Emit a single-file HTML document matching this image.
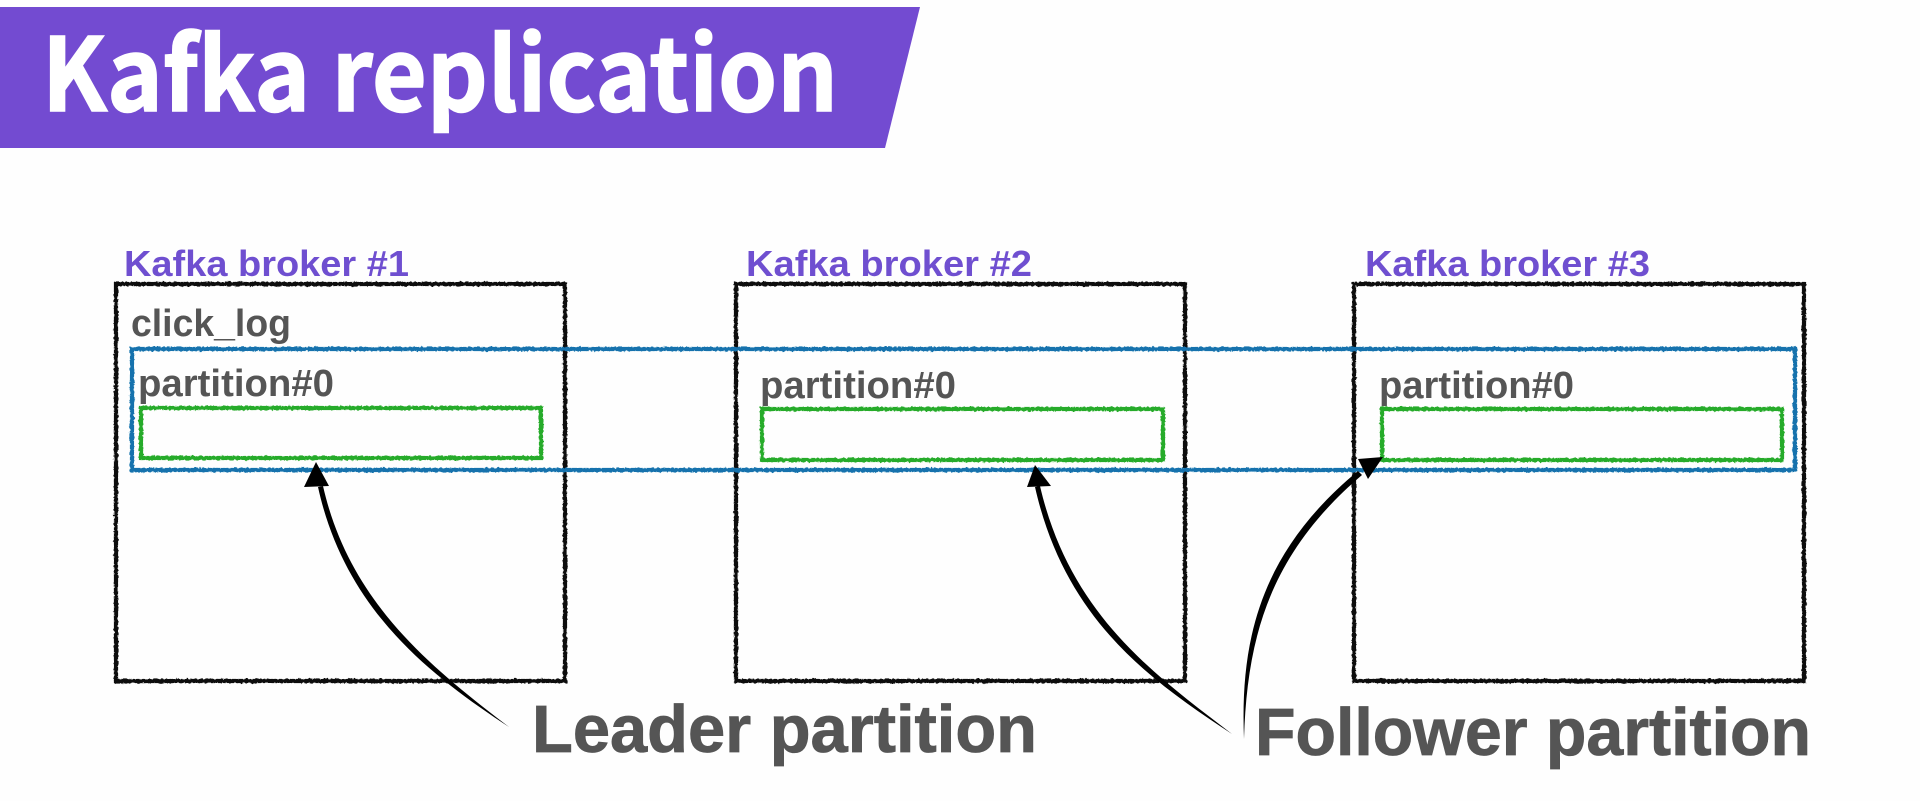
<!DOCTYPE html>
<html><head><meta charset="utf-8"><style>
html,body{margin:0;padding:0;background:#fefefe;width:1920px;height:801px;overflow:hidden}
svg{display:block}
text{font-family:"Liberation Sans",sans-serif;font-weight:700}
</style></head><body>
<svg width="1920" height="801" viewBox="0 0 1920 801" xmlns="http://www.w3.org/2000/svg">
<defs><filter id="r" x="-2%" y="-2%" width="104%" height="104%"><feTurbulence type="fractalNoise" baseFrequency="0.35" numOctaves="2" seed="4"/><feDisplacementMap in="SourceGraphic" scale="3"/></filter></defs>
<polygon points="0,7 920,7 885,148 0,148" fill="#734bd1"/>
<text x="42" y="111" font-size="101" fill="#fff" stroke="#fff" stroke-width="1.5" textLength="796" lengthAdjust="spacingAndGlyphs" style='font-family:"Noto Sans CJK KR","Liberation Sans",sans-serif;font-weight:700'>Kafka replication</text>
<g fill="none" filter="url(#r)">
<g stroke="#111" stroke-width="4.2">
<rect x="116" y="284" width="449" height="397"/>
<rect x="736" y="284" width="449" height="397"/>
<rect x="1354" y="284" width="450" height="397"/>
</g>
<rect x="132" y="349" width="1663" height="121" stroke="#1272ad" stroke-width="4.2"/>
<g stroke="#27ab2b" stroke-width="4.2">
<rect x="141" y="408" width="400" height="50"/>
<rect x="762" y="409" width="401" height="51"/>
<rect x="1382" y="409" width="400" height="51"/>
</g>
</g>
<g fill="#6f4fd0" font-size="36">
<text x="124" y="276" textLength="285" lengthAdjust="spacingAndGlyphs">Kafka broker #1</text>
<text x="746" y="276" textLength="286" lengthAdjust="spacingAndGlyphs">Kafka broker #2</text>
<text x="1365" y="276" textLength="285" lengthAdjust="spacingAndGlyphs">Kafka broker #3</text>
</g>
<g fill="#555" font-size="38">
<text x="131" y="336" textLength="160" lengthAdjust="spacingAndGlyphs">click_log</text>
<text x="138" y="396" textLength="196" lengthAdjust="spacingAndGlyphs">partition#0</text>
<text x="760" y="398" textLength="196" lengthAdjust="spacingAndGlyphs">partition#0</text>
<text x="1379" y="398" textLength="195" lengthAdjust="spacingAndGlyphs">partition#0</text>
</g>
<g fill="#555" font-size="67" stroke="#555" stroke-width="0.8">
<text x="532" y="752" textLength="505" lengthAdjust="spacingAndGlyphs">Leader partition</text>
<text x="1255" y="755" textLength="556" lengthAdjust="spacingAndGlyphs">Follower partition</text>
</g>
<g fill="#000">
<path d="M509,727 C430,675 345,610 318,487 L323,486 C350,605 435,670 509,727Z"/>
<polygon points="316,462 304,487 329,486"/>
<path d="M1232,734 C1150,680 1065,620 1035,487 L1040,486 C1070,615 1155,675 1232,734Z"/>
<polygon points="1035,465 1027,487 1051,486"/>
<path d="M1244,739 C1240,640 1260,552 1358,471 L1362,475 C1268,555 1247,640 1244,739Z"/>
<polygon points="1383,457 1358,459 1368,479"/>
</g>
</svg>
</body></html>
